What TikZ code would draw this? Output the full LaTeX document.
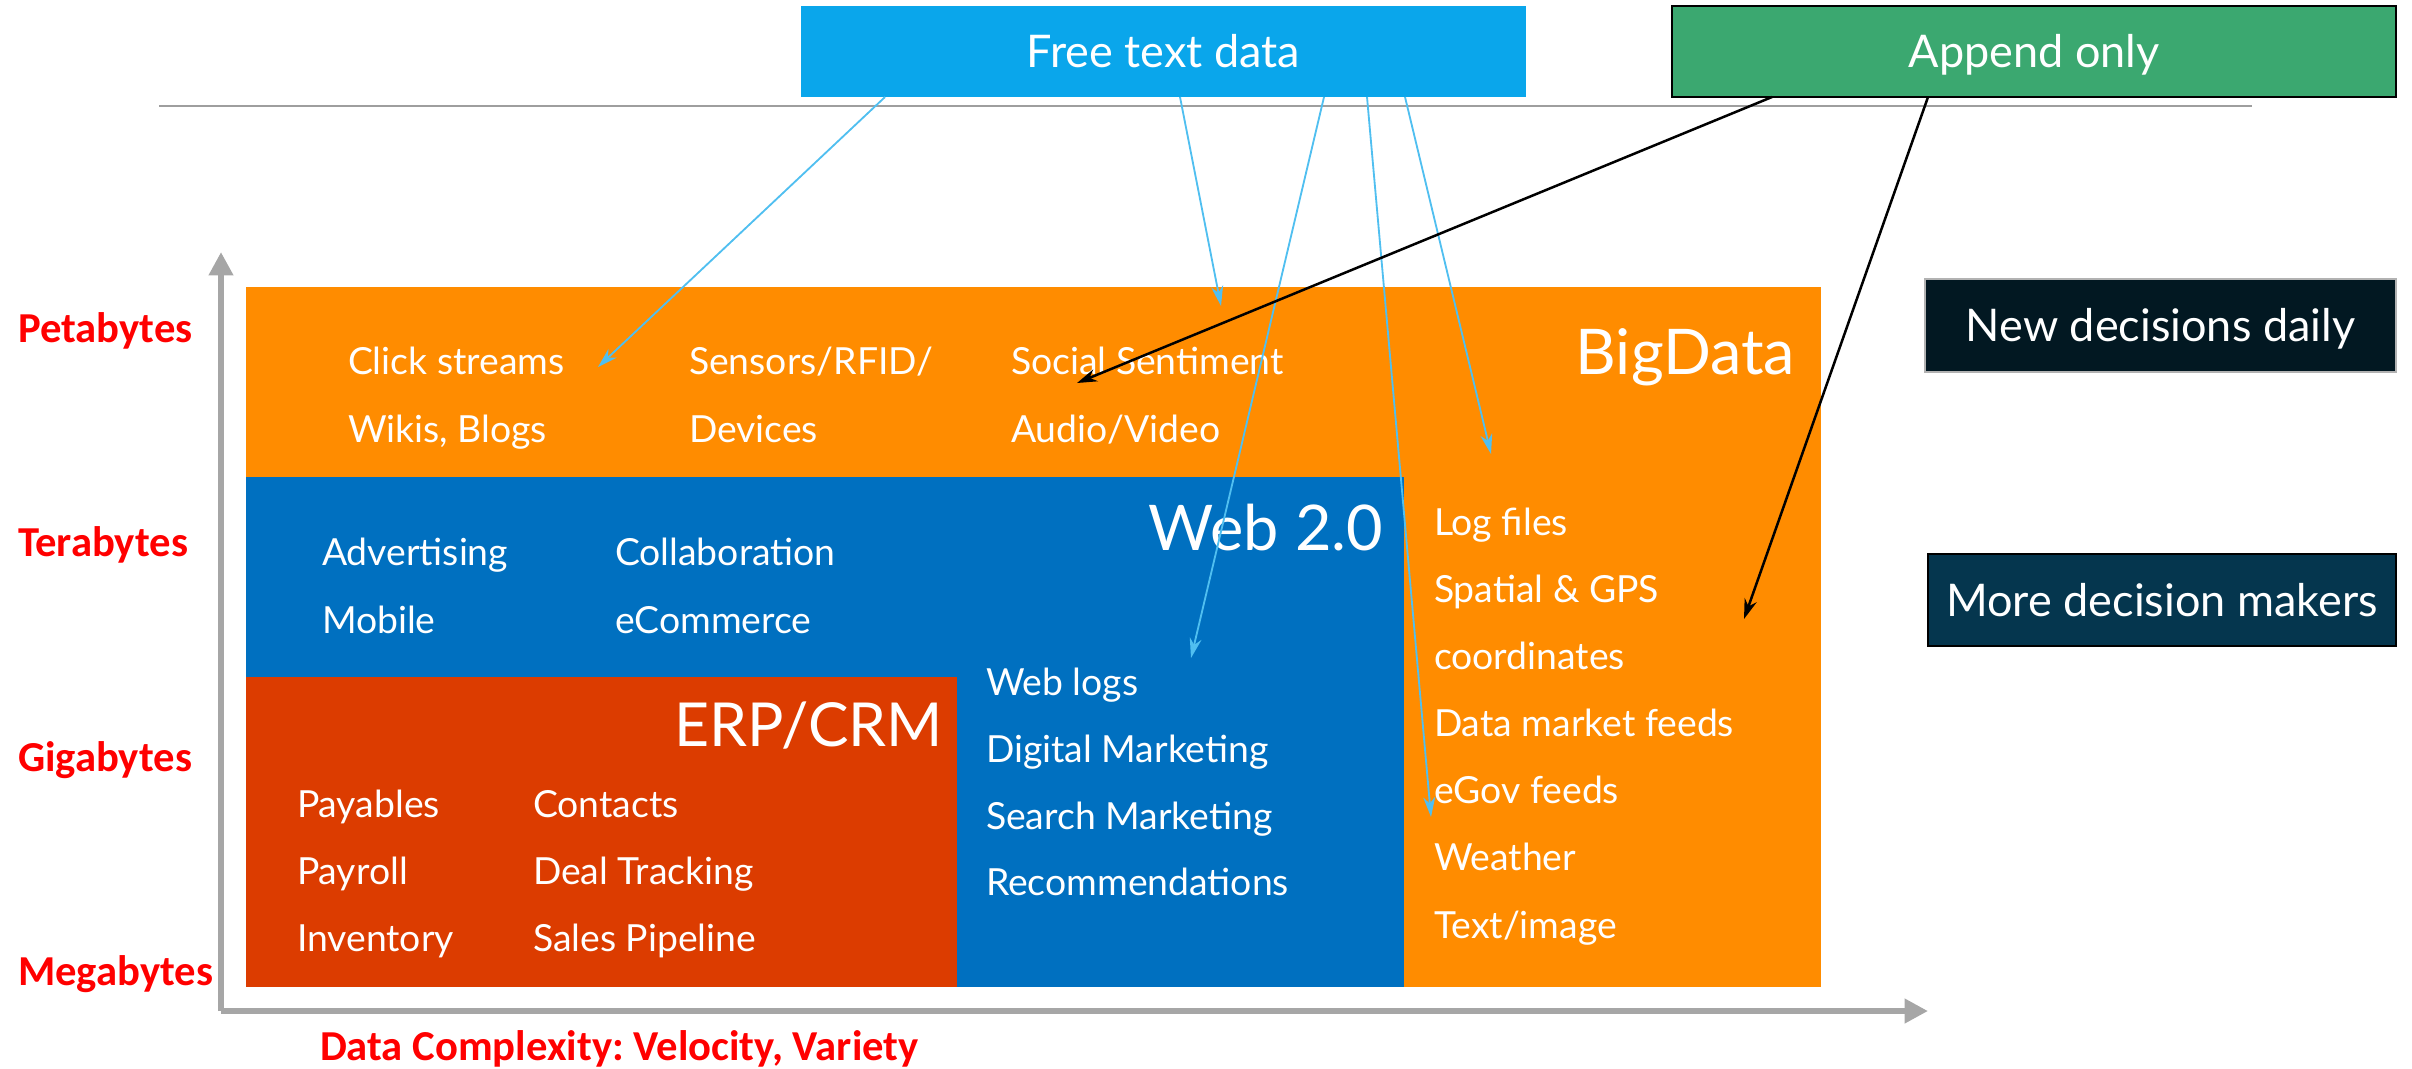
\documentclass[tikz,border=0pt]{standalone}
\usepackage{fontspec}
\setmainfont{Lato}
\newfontfamily\calfont{Carlito}
\usetikzlibrary{arrows.meta,calc}
\definecolor{bdorange}{HTML}{FF8C00}
\definecolor{webblue}{HTML}{0070C0}
\definecolor{erpred}{HTML}{DC3C00}
\definecolor{ftblue}{HTML}{0AA6EB}
\definecolor{apgreen}{HTML}{3BA870}
\definecolor{ndnavy}{HTML}{021822}
\definecolor{mdteal}{HTML}{05364E}
\definecolor{arrblue}{HTML}{50BFF0}
\definecolor{axisgray}{HTML}{A6A6A6}
\definecolor{sepgray}{HTML}{9E9E9E}
\frenchspacing
\begin{document}
\begin{tikzpicture}[x=0.3pt,y=-0.3pt,
  region/.style={inner sep=0pt,outer sep=0pt,anchor=north west},
  topbox/.style={inner sep=0pt,outer sep=0pt,anchor=north west,text=white,
    font=\fontsize{13.5}{16}\selectfont,text height=9.7pt,text depth=0pt},
  item/.style={inner sep=0pt,outer sep=0pt,anchor=west,text=white,
    font=\fontsize{11.2}{13}\selectfont,text height=8.05pt,text depth=0pt},
  title/.style={inner sep=0pt,outer sep=0pt,anchor=east,text=white,
    font=\fontsize{18.9}{22}\selectfont,text height=13.5pt,text depth=0pt},
  redlabel/.style={inner sep=0pt,outer sep=0pt,anchor=west,text=red,
    font=\calfont\bfseries\fontsize{12.8}{15}\selectfont,text height=8.25pt,text depth=0pt},
  axisline/.style={draw=axisgray,line width=1.8pt,-{Triangle[length=7pt,width=7pt]}},
  barrow/.style={draw=arrblue,line width=0.55pt,-{Stealth[length=6pt,width=3.6pt]}},
  karrow/.style={draw=black,line width=0.75pt,-{Stealth[length=6pt,width=3.8pt]}}
]
\useasboundingbox (0,0) rectangle (2412,1068);

% regions
\node[region,fill=bdorange,minimum width=472.5pt,minimum height=210pt] (big) at (246,287) {};
\node[region,fill=webblue,minimum width=347.4pt,minimum height=153pt] (web) at (246,477) {};
\node[region,fill=erpred,minimum width=213.3pt,minimum height=93pt] (erp) at (246,677) {};

% titles
\node[title] (tbig) at (1795,352) {BigData};
\node[title] (tweb) at (1383,528) {Web 2.0};
\node[title,font=\fontsize{18.2}{22}\selectfont] (terp) at (943,724) {ERP/CRM};

% BigData items
\node[item] (i1) at (348,361) {Click streams};
\node[item] (i2) at (348,429) {Wikis, Blogs};
\node[item] (i3) at (689,361) {Sensors/RFID/};
\node[item] (i4) at (689,429) {Devices};
\node[item] (i5) at (1011,361) {Social Sentiment};
\node[item] (i6) at (1011,429) {Audio/Video};
\node[item] (r1) at (1434,522) {Log files};
\node[item] (r2) at (1434,589) {Spatial \& GPS};
\node[item] (r3) at (1434,656) {coordinates};
\node[item] (r4) at (1434,723) {Data market feeds};
\node[item] (r5) at (1434,790) {eGov feeds};
\node[item] (r6) at (1434,857) {Weather};
\node[item] (r7) at (1434,925) {Text/image};

% Web 2.0 items
\node[item] (w1) at (322,552) {Advertising};
\node[item] (w2) at (322,620) {Mobile};
\node[item] (w3) at (615,552) {Collaboration};
\node[item] (w4) at (615,620) {eCommerce};
\node[item] (w5) at (986,682) {Web logs};
\node[item] (w6) at (986,749) {Digital Marketing};
\node[item] (w7) at (986,816) {Search Marketing};
\node[item] (w8) at (986,882) {Recommendations};

% ERP items
\node[item] (e1) at (297,804) {Payables};
\node[item] (e2) at (297,871) {Payroll};
\node[item] (e3) at (297,938) {Inventory};
\node[item] (e4) at (533,804) {Contacts};
\node[item] (e5) at (533,871) {Deal Tracking};
\node[item] (e6) at (533,938) {Sales Pipeline};

% axis labels
\node[redlabel] (l1) at (18,329) {Petabytes};
\node[redlabel] (l2) at (18,543) {Terabytes};
\node[redlabel] (l3) at (18,758) {Gigabytes};
\node[redlabel] (l4) at (18,972) {Megabytes};
\node[redlabel] (l5) at (320,1047) {Data Complexity: Velocity, Variety};

% axes
\coordinate (org) at (221,1011);
\coordinate (ytip) at (221,252);
\coordinate (xtip) at (1928,1011);
\draw[axisline] (org) -- (ytip);
\draw[axisline] (org) -- (xtip);

% separator
\coordinate (sepl) at (159,106);
\coordinate (sepr) at (2252,106);
\draw[draw=sepgray,line width=0.6pt] (sepl) -- (sepr);

% top boxes
\node[topbox,fill=ftblue,minimum width=217.5pt,minimum height=27.3pt] (ft) at (801,6) {Free text data};
\node[topbox,fill=apgreen,draw=black,line width=0.6pt,minimum width=217.2pt,minimum height=27.3pt] (ap) at (1672,6) {Append only};
\node[topbox,fill=ndnavy,draw=gray!60,line width=0.4pt,minimum width=141.3pt,minimum height=27.9pt] (nd) at (1925,279) {New decisions daily};
\node[topbox,fill=mdteal,draw=black,line width=0.6pt,minimum width=140.4pt,minimum height=27.6pt] (md) at (1928,554) {More decision makers};

% arrow targets
\coordinate (t1) at (598,367);
\coordinate (t2) at (1221,306);
\coordinate (t3) at (1191,658);
\coordinate (t4) at (1431,817);
\coordinate (t5) at (1491,454);
\coordinate (k1) at (1077,383);
\coordinate (k2) at (1744,619);

\draw[barrow] ($(ft.south west)+(84,0)$) -- (t1);
\draw[barrow] ($(ft.south west)+(379,0)$) -- (t2);
\draw[barrow] ($(ft.south west)+(523,0)$) -- (t3);
\draw[barrow] ($(ft.south west)+(566,0)$) -- (t4);
\draw[barrow] ($(ft.south west)+(604,0)$) -- (t5);
\draw[karrow] ($(ap.south west)+(100,0)$) -- (k1);
\draw[karrow] ($(ap.south west)+(256,0)$) -- (k2);
\end{tikzpicture}
\end{document}
